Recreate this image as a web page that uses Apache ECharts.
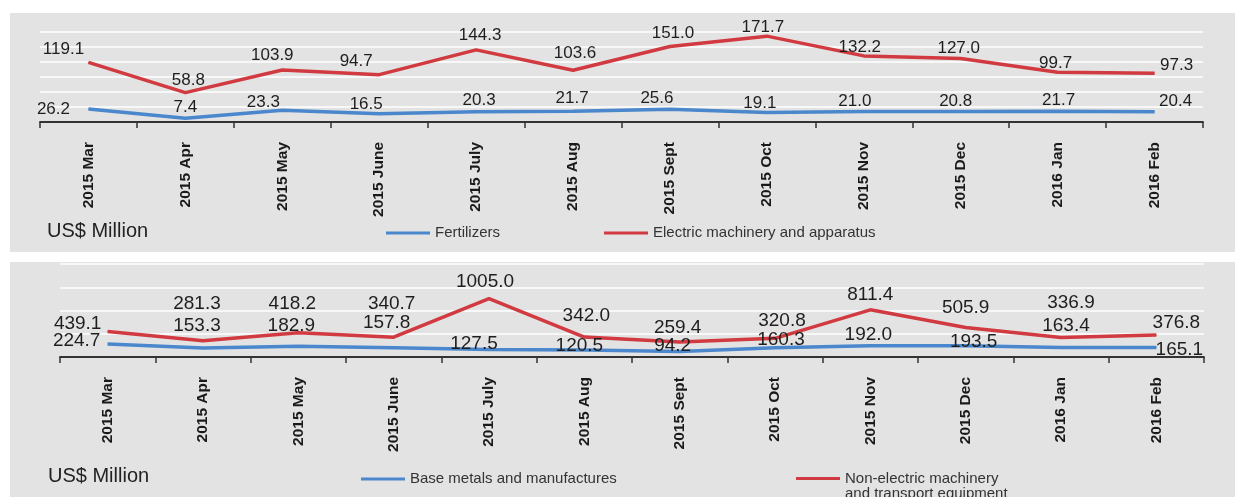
<!DOCTYPE html>
<html>
<head>
<meta charset="utf-8">
<script src="https://cdn.jsdelivr.net/npm/echarts@6/dist/echarts.min.js"></script>
<style>
html,body{margin:0;padding:0;background:#fff;}
#chart{width:1235px;height:497px;}
</style>
</head>
<body>
<div id="chart"></div>
<script>
// ---- data ----
var categories = ['2015 Mar','2015 Apr','2015 May','2015 June','2015 July','2015 Aug','2015 Sept','2015 Oct','2015 Nov','2015 Dec','2016 Jan','2016 Feb'];
var fertilizers = [26.2, 7.4, 23.3, 16.5, 20.3, 21.7, 25.6, 19.1, 21.0, 20.8, 21.7, 20.4];
var electricMachinery = [119.1, 58.8, 103.9, 94.7, 144.3, 103.6, 151.0, 171.7, 132.2, 127.0, 99.7, 97.3];
var baseMetals = [224.7, 153.3, 182.9, 157.8, 127.5, 120.5, 94.2, 160.3, 192.0, 193.5, 163.4, 165.1];
var nonElectricMachinery = [439.1, 281.3, 418.2, 340.7, 1005.0, 342.0, 259.4, 320.8, 811.4, 505.9, 336.9, 376.8];
var unitLabel = 'US$ Million';

// ---- label placement (styling, not data) ----
var offFert = [[-35,0],[0,-11],[-19,-8],[-13,-9],[3,-12],[-1,-13],[-13,-11],[-7,-9],[-9,-10],[-5,-10],[1,-11],[21,-10]];
var offElec = [[-25,-13],[3,-12],[-10,-15],[-23,-13],[4,-15],[2,-17],[3,-13],[-4,-9],[-4,-9],[-2,-10],[-2,-9],[22,-8]];
var offBase = [[-31,-3],[-6,-22],[-7,-21],[-7,-25],[-15,-6],[-5,-4],[-7,-6],[6,-8],[-2,-11],[8,-4],[5,-22],[23,2]];
var offNon  = [[-30,-8],[-6,-37],[-6,-29],[-2,-33],[-4,-17],[2,-21],[-2,-14],[7,-18],[0,-15],[0,-20],[10,-35],[20,-12]];

var RED = '#d13a40', BLUE = '#4a87cc';

function withLabels(vals, offs) {
  return vals.map(function (v, i) {
    return { value: v, label: { offset: offs[i] } };
  });
}

function makeSeries(name, vals, offs, color, axisIdx, font) {
  return {
    name: name,
    type: 'line',
    xAxisIndex: axisIdx,
    yAxisIndex: axisIdx,
    data: withLabels(vals, offs),
    symbol: 'circle',
    symbolSize: 1,
    itemStyle: { color: color },
    lineStyle: { color: color, width: 3.5 },
    emphasis: { disabled: true },
    animation: false,
    label: {
      show: true,
      position: 'inside',
      color: '#1e1e1e',
      fontFamily: font.family,
      fontSize: font.size,
      formatter: function (p) { return p.value.toFixed(1); }
    }
  };
}

function xAxis(gridIndex) {
  return {
    type: 'category',
    gridIndex: gridIndex,
    data: categories,
    boundaryGap: true,
    axisLine: { lineStyle: { color: '#333', width: 1.8 } },
    axisTick: { show: true, length: 6, alignWithLabel: false, lineStyle: { color: '#333', width: 1.5 } },
    axisLabel: {
      interval: 0, rotate: 90, margin: 20,
      fontFamily: 'Liberation Sans', fontWeight: 'bold', fontSize: 15.5, color: '#1a1a1a'
    }
  };
}

function yAxis(gridIndex, max, interval) {
  return {
    type: 'value', gridIndex: gridIndex, min: 0, max: max, interval: interval,
    axisLabel: { show: false }, axisLine: { show: false }, axisTick: { show: false },
    splitLine: { show: true, lineStyle: { color: '#ffffff', width: 1.5 } }
  };
}

function legendItem(name, left, top, extraText) {
  return {
    data: [name], left: left, top: top, padding: 0, orient: 'horizontal',
    icon: 'rect', itemWidth: 44, itemHeight: 3,
    selectedMode: false,
    textStyle: Object.assign({ fontFamily: 'Liberation Sans', fontSize: 15, color: '#333', lineHeight: 16 }, extraText || {})
  };
}

var chart = echarts.init(document.getElementById('chart'), null, { renderer: 'canvas' });
var option = {
  backgroundColor: '#ffffff',
  animation: false,
  graphic: [
    { type: 'rect', z: -10, shape: { x: 10, y: 13, width: 1225, height: 239 }, style: { fill: '#e3e3e3' } },
    { type: 'rect', z: -10, shape: { x: 10, y: 262, width: 1225, height: 235 }, style: { fill: '#e3e3e3' } },
    { type: 'text', z: 5, left: 47, top: 221, style: { text: unitLabel, font: '20px "Liberation Sans"', fill: '#222' } },
    { type: 'text', z: 5, left: 48, top: 466, style: { text: unitLabel, font: '20px "Liberation Sans"', fill: '#222' } }
  ],
  grid: [
    { left: 40, right: 32, top: 32, height: 90 },
    { left: 60, right: 31, top: 264, height: 93 }
  ],
  xAxis: [xAxis(0), xAxis(1)],
  yAxis: [yAxis(0, 180, 30), yAxis(1, 1600, 400)],
  legend: [
    legendItem('Fertilizers', 386, 225),
    legendItem('Electric machinery and apparatus', 604, 225),
    legendItem('Base metals and manufactures', 361, 471),
    Object.assign(legendItem('Non-electric machinery and transport equipment', 796, 456, { lineHeight: 15 }), {
      formatter: function () { return ' \nNon-electric machinery\nand transport equipment'; }
    })
  ],
  series: [
    makeSeries('Fertilizers', fertilizers, offFert, BLUE, 0, { family: 'Liberation Sans', size: 17 }),
    makeSeries('Electric machinery and apparatus', electricMachinery, offElec, RED, 0, { family: 'Liberation Sans', size: 17 }),
    makeSeries('Base metals and manufactures', baseMetals, offBase, BLUE, 1, { family: 'Liberation Sans', size: 19 }),
    makeSeries('Non-electric machinery and transport equipment', nonElectricMachinery, offNon, RED, 1, { family: 'Liberation Sans', size: 19 })
  ]
};
chart.setOption(option);
</script>
</body>
</html>
